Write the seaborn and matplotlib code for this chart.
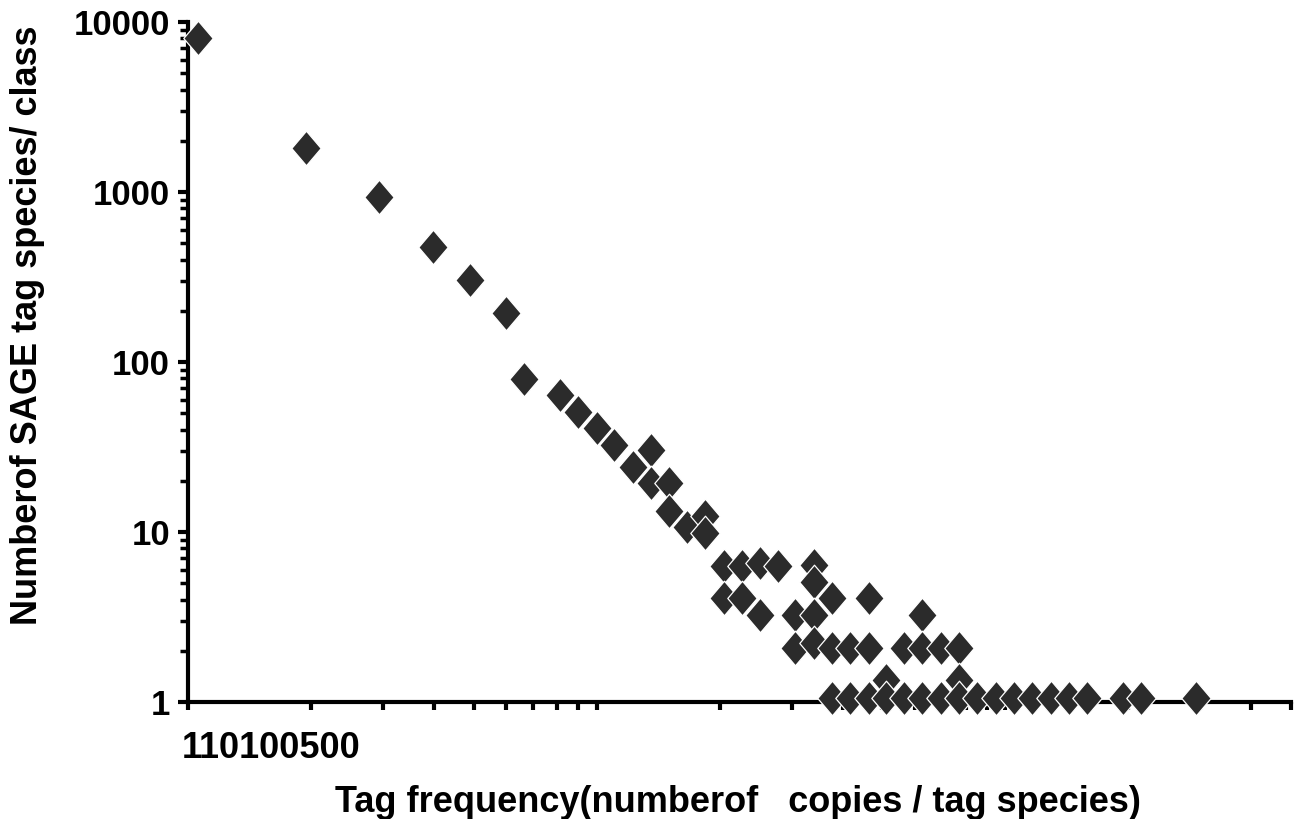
import numpy as np
import pandas as pd
import seaborn as sns
import matplotlib.pyplot as plt
from matplotlib.path import Path
from matplotlib.ticker import FixedLocator, NullFormatter

# tag frequency (copies / tag species) and number of tag species per class
tag_freq = [1.06, 1.94, 2.94, 3.98, 4.9, 6.0, 6.65, 8.12, 9.0, 10.0, 11.05, 12.24,
            13.57, 13.57, 15.04, 15.04, 16.67, 18.41, 18.41,
            20.52, 20.52, 22.62, 22.62, 25.07, 25.07, 27.79, 30.52, 30.52,
            34.0, 34.0, 34.0, 34.0, 37.7, 37.7, 37.7, 41.7, 41.7,
            46.3, 46.3, 46.3, 51.1, 51.1, 56.6, 56.6, 62.7, 62.7, 62.7,
            69.5, 69.5, 77.1, 77.1, 77.1, 85.4, 94.7, 105, 116.4, 129, 143, 158,
            194, 214.6, 292]
n_species = [8000, 1815, 934, 475, 303, 194, 79.4, 63.7, 50.6, 40.7, 32.5, 24.2,
             30.4, 19.3, 19.3, 13.3, 10.7, 12.5, 9.8,
             6.3, 4.07, 6.3, 4.07, 6.6, 3.25, 6.3, 3.25, 2.07,
             6.4, 5.1, 3.25, 2.21, 4.07, 2.07, 1.05, 2.07, 1.05,
             4.07, 2.07, 1.05, 1.35, 1.05, 2.07, 1.05, 3.25, 2.07, 1.05,
             2.07, 1.05, 2.07, 1.35, 1.05, 1.05, 1.05, 1.05, 1.05, 1.05, 1.05, 1.05,
             1.05, 1.05, 1.05]

y_ticks = [1, 10, 100, 1000, 10000]
y_ticklabels = ["1", "10", "100", "1000", "10000"]
x_ticklabel_text = "110100500"
x_title = "Tag frequency(numberof   copies / tag species)"
y_title = "Numberof SAGE tag species/ class"

sns.set_style("ticks")
plt.rcParams["font.family"] = ["Liberation Sans", "DejaVu Sans"]
plt.rcParams["font.weight"] = "bold"
plt.rcParams["text.color"] = "black"
plt.rcParams["ytick.color"] = "black"
plt.rcParams["xtick.color"] = "black"

df = pd.DataFrame({"freq": tag_freq, "count": n_species})

W, H = 1297, 819
fig = plt.figure(figsize=(W / 100, H / 100), dpi=100)
ax = fig.add_axes([188 / W, 1 - 702 / H, (1291 - 188) / W, (702 - 22) / H])

diamond = Path([(0, 1), (0.85, 0), (0, -1), (-0.85, 0), (0, 1)],
               [Path.MOVETO, Path.LINETO, Path.LINETO, Path.LINETO, Path.CLOSEPOLY])

sns.scatterplot(data=df, x="freq", y="count", ax=ax, marker=diamond, s=620,
                color="#2b2b2b", edgecolor="white", linewidth=0.9,
                clip_on=False, zorder=5, legend=False)

ax.set_xscale("log")
ax.set_yscale("log")
ax.set_xlim(1, 500)
ax.set_ylim(1, 10000)

# x: all ticks drawn alike, labels written as one run at left
xt = [1, 2, 3, 4, 5, 6, 7, 8, 9, 10, 20, 30, 40, 50, 60, 70, 80, 90,
      100, 200, 300, 400, 500]
ax.xaxis.set_major_locator(FixedLocator(xt))
ax.xaxis.set_minor_locator(FixedLocator([]))
ax.xaxis.set_major_formatter(NullFormatter())
ax.tick_params(axis="x", which="major", length=6, width=3, direction="out")

ax.yaxis.set_major_locator(FixedLocator(y_ticks))
ax.set_yticklabels(y_ticklabels, fontsize=25, fontweight="bold", color="black")
ymin = [m * d for d in [1, 10, 100, 1000] for m in range(2, 10)]
ax.yaxis.set_minor_locator(FixedLocator(ymin))
ax.yaxis.set_minor_formatter(NullFormatter())
ax.tick_params(axis="y", which="major", length=7, width=3, pad=6)
ax.tick_params(axis="y", which="minor", length=6, width=2.5)

for side in ["top", "right"]:
    ax.spines[side].set_visible(False)
for side in ["left", "bottom"]:
    ax.spines[side].set_linewidth(3)
    ax.spines[side].set_color("black")

ax.set_xlabel("")
ax.set_ylabel("")
fig.text(182 / W, 1 - 748 / H, x_ticklabel_text, fontsize=26, fontweight="bold",
         ha="left", va="center")
fig.text(738 / W, 1 - 803 / H, x_title, fontsize=26, fontweight="bold",
         ha="center", va="center")
fig.text(28 / W, 1 - 325 / H, y_title, fontsize=26, fontweight="bold",
         ha="center", va="center", rotation=90)

fig.savefig("out.png", dpi=100)
